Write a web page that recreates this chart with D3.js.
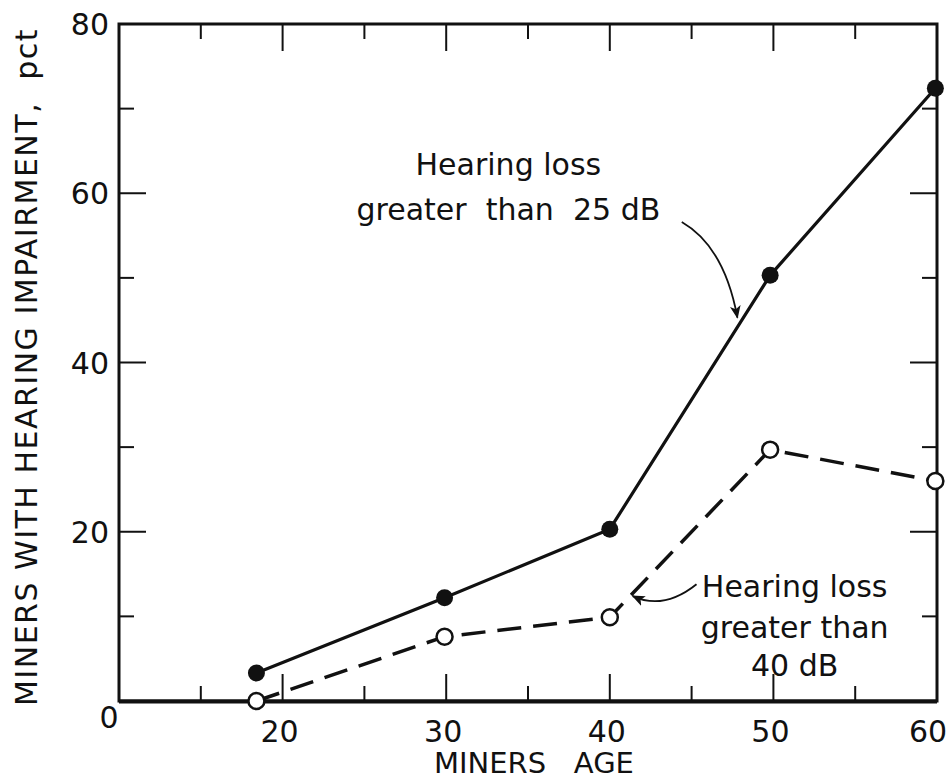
<!DOCTYPE html>
<html>
<head>
<meta charset="utf-8">
<script src="https://cdn.jsdelivr.net/npm/d3@7"></script>
<style>
  body { margin: 0; background: #fff; }
  text { font-family: "DejaVu Sans", sans-serif; fill: #111; white-space: pre; }
</style>
</head>
<body>
<svg id="chart" width="950" height="782"></svg>
<script>
// values
var ages = [18.4, 29.9, 40, 49.8, 59.9];
var loss25 = [3.3, 12.2, 20.3, 50.3, 72.4];
var loss40 = [0, 7.6, 9.9, 29.7, 26.0];
var xTickLabels = [20, 30, 40, 50, 60];
var yTickLabels = [20, 40, 60, 80];
var xTicks = [15, 20, 25, 30, 35, 40, 45, 50, 55];
var yTicks = [10, 20, 30, 40, 50, 60, 70];

// annotation anchors in data units
var note25 = { lines: ["Hearing loss", "greater  than  25 dB"], x: 33.8, y: [62.2, 56.8] };
var note40 = { lines: ["Hearing loss", "greater than", "40 dB"], x: 51.3, y: [12.3, 7.5, 3.0] };
var arrow25 = { from: [44.4, 56.6], ctrl: [47.0, 53.7], to: [47.8, 45.3] };
var arrow40 = { from: [45.3, 13.8], ctrl: [43.3, 10.7], to: [41.4, 12.4] };

var svg = d3.select('#chart');
var plotLeft = 119, plotRight = 937, plotTop = 24, plotBottom = 701;

var x = d3.scaleLinear().domain([10, 60]).range([plotLeft, plotRight]);
var y = d3.scaleLinear().domain([0, 80]).range([plotBottom, plotTop]);

var defs = svg.append('defs');
defs.append('marker')
    .attr('id', 'head')
    .attr('viewBox', '0 0 12 10')
    .attr('refX', 11).attr('refY', 5)
    .attr('markerWidth', 13).attr('markerHeight', 11)
    .attr('markerUnits', 'userSpaceOnUse')
    .attr('orient', 'auto')
    .append('path')
    .attr('d', 'M0,0 L12,5 L0,10 L3,5 Z')
    .attr('fill', '#111');

// frame
svg.append('rect')
    .attr('x', plotLeft).attr('y', plotTop)
    .attr('width', plotRight - plotLeft).attr('height', plotBottom - plotTop)
    .attr('fill', 'none').attr('stroke', '#111').attr('stroke-width', 3);
svg.append('line')
    .attr('x1', plotLeft).attr('x2', plotRight)
    .attr('y1', plotBottom + 0.5).attr('y2', plotBottom + 0.5)
    .attr('stroke', '#111').attr('stroke-width', 4);

// ticks on all four sides, long ones at the labelled values
var tickLen = function (v, step) { return v % step === 0 ? 27 : 15; };

var g = svg.append('g').attr('stroke', '#111').attr('stroke-width', 2);
xTicks.forEach(function (v) {
    g.append('line').attr('x1', x(v)).attr('x2', x(v))
        .attr('y1', plotBottom).attr('y2', plotBottom - tickLen(v, 10));
    g.append('line').attr('x1', x(v)).attr('x2', x(v))
        .attr('y1', plotTop).attr('y2', plotTop + tickLen(v, 10));
});
yTicks.forEach(function (v) {
    g.append('line').attr('y1', y(v)).attr('y2', y(v))
        .attr('x1', plotLeft).attr('x2', plotLeft + tickLen(v, 20));
    g.append('line').attr('y1', y(v)).attr('y2', y(v))
        .attr('x1', plotRight).attr('x2', plotRight - tickLen(v, 20));
});

// tick labels
svg.selectAll('.xlab').data(xTickLabels).enter().append('text')
    .attr('class', 'xlab')
    .attr('x', function (d) { return Math.min(x(d) - 3, 928); })
    .attr('y', 742)
    .attr('text-anchor', 'middle')
    .attr('font-size', 30)
    .text(function (d) { return d; });

svg.selectAll('.ylab').data(yTickLabels).enter().append('text')
    .attr('class', 'ylab')
    .attr('x', plotLeft - 10)
    .attr('y', function (d) { return y(d) + 11; })
    .attr('text-anchor', 'end')
    .attr('font-size', 30)
    .text(function (d) { return d; });

svg.append('text')
    .attr('x', plotLeft - 10).attr('y', 728)
    .attr('text-anchor', 'middle')
    .attr('font-size', 30)
    .text('0');

// axis titles
svg.append('text')
    .attr('x', 434).attr('y', 773)
    .attr('font-size', 29)
    .text('MINERS   AGE');

svg.append('text')
    .attr('transform', 'translate(37,367) rotate(-90)')
    .attr('text-anchor', 'middle')
    .attr('font-size', 30)
    .attr('letter-spacing', 1.5)
    .text('MINERS WITH HEARING IMPAIRMENT,  pct');

// series
var pts25 = ages.map(function (a, i) { return [a, loss25[i]]; });
var pts40 = ages.map(function (a, i) { return [a, loss40[i]]; });
var line = d3.line().x(function (d) { return x(d[0]); }).y(function (d) { return y(d[1]); });

svg.append('path').datum(pts40)
    .attr('d', line)
    .attr('fill', 'none').attr('stroke', '#111')
    .attr('stroke-width', 3.5)
    .attr('stroke-dasharray', '24,12');

svg.append('path').datum(pts25)
    .attr('d', line)
    .attr('fill', 'none').attr('stroke', '#111')
    .attr('stroke-width', 3.2);

svg.selectAll('.open').data(pts40).enter().append('circle')
    .attr('class', 'open')
    .attr('cx', function (d) { return x(d[0]); })
    .attr('cy', function (d) { return y(d[1]); })
    .attr('r', 8)
    .attr('fill', '#fff').attr('stroke', '#111').attr('stroke-width', 2.5);

svg.selectAll('.filled').data(pts25).enter().append('circle')
    .attr('class', 'filled')
    .attr('cx', function (d) { return x(d[0]); })
    .attr('cy', function (d) { return y(d[1]); })
    .attr('r', 8.5)
    .attr('fill', '#111');

// annotations
var drawNote = function (note) {
    note.lines.forEach(function (t, i) {
        svg.append('text')
            .attr('x', x(note.x)).attr('y', y(note.y[i]))
            .attr('text-anchor', 'middle')
            .attr('font-size', 30)
            .text(t);
    });
};
var drawArrow = function (a) {
    var p = d3.path();
    p.moveTo(x(a.from[0]), y(a.from[1]));
    p.quadraticCurveTo(x(a.ctrl[0]), y(a.ctrl[1]), x(a.to[0]), y(a.to[1]));
    svg.append('path')
        .attr('d', p.toString())
        .attr('fill', 'none').attr('stroke', '#111').attr('stroke-width', 1.8)
        .attr('marker-end', 'url(#head)');
};
drawNote(note25);
drawNote(note40);
drawArrow(arrow25);
drawArrow(arrow40);
</script>
</body>
</html>
